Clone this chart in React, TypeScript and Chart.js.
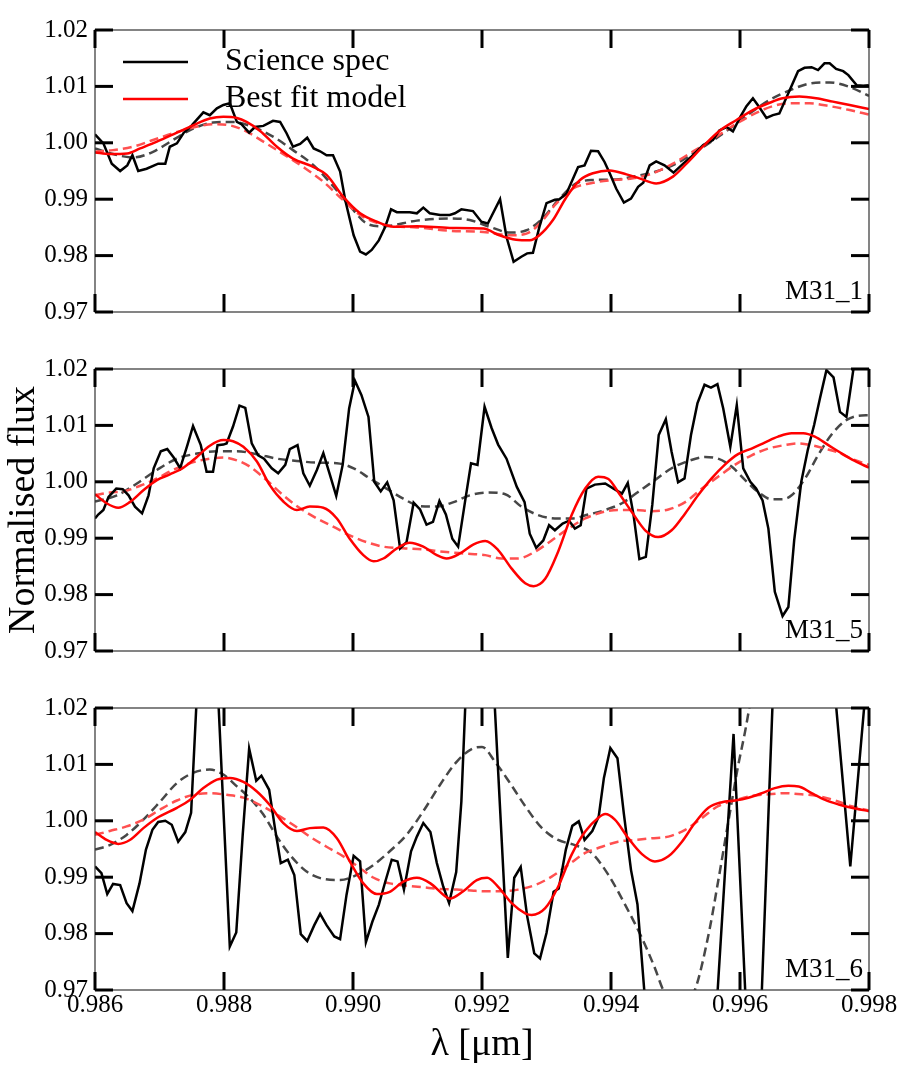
import React, { useEffect, useRef } from "react";
import { Chart, registerables } from "chart.js";

Chart.register(...registerables);

Chart.defaults.font.family = '"Liberation Serif", "Times New Roman", serif';
Chart.defaults.color = "#000";

type Pt = [number, number];

// shared axes
const xTicks = [0.986, 0.988, 0.99, 0.992, 0.994, 0.996, 0.998];
const xTickLabels = ["0.986", "0.988", "0.990", "0.992", "0.994", "0.996", "0.998"];
const yTicks = [0.97, 0.98, 0.99, 1.0, 1.01, 1.02];
const yTickLabels = ["0.97", "0.98", "0.99", "1.00", "1.01", "1.02"];
const panelNames = ["M31_1", "M31_5", "M31_6"];
const legendLabels = ["Science spec", "Best fit model"];

// ---- M31_1 ----
const m31_1Spec: Pt[] = [
  [0.986, 1.0015], [0.98613, 0.9999], [0.98626, 0.9963], [0.98639, 0.995], [0.9865, 0.996],
  [0.98658, 0.9978], [0.98667, 0.995], [0.9868, 0.9954], [0.98698, 0.9963], [0.98709, 0.9963],
  [0.98716, 0.9993], [0.98727, 0.9999], [0.98737, 1.0017], [0.9875, 1.0031], [0.98768, 1.0054],
  [0.98778, 1.0049], [0.98789, 1.0061], [0.98799, 1.0067], [0.98809, 1.007], [0.9882, 1.0037],
  [0.98827, 1.0033], [0.98839, 1.0018], [0.98848, 1.0028], [0.98861, 1.003], [0.98876, 1.0039],
  [0.98887, 1.0037], [0.98897, 1.0017], [0.98907, 0.9993], [0.98918, 0.9998], [0.98929, 1.0009],
  [0.98939, 0.999], [0.98949, 0.9985], [0.98959, 0.9978], [0.98969, 0.9978], [0.9898, 0.9949],
  [0.98988, 0.9898], [0.99001, 0.9836], [0.99011, 0.9807], [0.9902, 0.9802], [0.99029, 0.981],
  [0.9904, 0.9827], [0.9905, 0.9851], [0.99059, 0.9882], [0.99068, 0.9877], [0.99088, 0.9877],
  [0.99099, 0.9875], [0.99109, 0.9885], [0.99119, 0.9875], [0.99135, 0.9872], [0.9915, 0.9872],
  [0.99158, 0.9875], [0.99168, 0.9882], [0.99186, 0.9879], [0.99199, 0.986], [0.99209, 0.9857],
  [0.99228, 0.99], [0.99238, 0.9833], [0.99249, 0.9789], [0.99261, 0.9798], [0.9927, 0.9804],
  [0.99279, 0.9805], [0.99289, 0.9851], [0.993, 0.9893], [0.99313, 0.9899], [0.9932, 0.99],
  [0.99331, 0.991], [0.99349, 0.9957], [0.99359, 0.996], [0.99369, 0.9986], [0.9938, 0.9985],
  [0.9939, 0.9966], [0.99398, 0.9946], [0.99408, 0.9919], [0.9942, 0.9894], [0.99431, 0.9901],
  [0.99442, 0.9922], [0.9945, 0.9929], [0.9946, 0.996], [0.9947, 0.9967], [0.99483, 0.996],
  [0.99497, 0.9947], [0.99512, 0.9963], [0.99525, 0.9976], [0.99543, 0.9996], [0.99558, 1.0005],
  [0.99568, 1.0022], [0.99579, 1.0028], [0.99589, 1.002], [0.996, 1.0045], [0.9961, 1.0065],
  [0.9962, 1.0079], [0.9963, 1.0063], [0.99641, 1.0044], [0.99651, 1.0049], [0.99661, 1.0052],
  [0.99677, 1.0093], [0.9969, 1.0127], [0.997, 1.0133], [0.99711, 1.0134], [0.99721, 1.0129],
  [0.99731, 1.0141], [0.99739, 1.0141], [0.99749, 1.0131], [0.9976, 1.0127], [0.99768, 1.012],
  [0.99781, 1.0102], [0.99791, 1.0101], [0.998, 1.0102],
];
const m31_1Fit: Pt[] = [
  [0.986, 0.9983], [0.98623, 0.998], [0.9865, 0.9981], [0.9867, 0.999], [0.98696, 1.0002],
  [0.98727, 1.0018], [0.98752, 1.0031], [0.98778, 1.0043], [0.98799, 1.0046], [0.9882, 1.0044],
  [0.98835, 1.0037], [0.98856, 1.0021], [0.98882, 0.9993], [0.98907, 0.9972], [0.98939, 0.9957],
  [0.98959, 0.9943], [0.98985, 0.9904], [0.99011, 0.9875], [0.99037, 0.986], [0.99063, 0.9851],
  [0.99099, 0.9852], [0.9915, 0.9849], [0.99202, 0.9848], [0.99227, 0.9836], [0.99253, 0.9828],
  [0.99274, 0.9827], [0.99289, 0.9836], [0.9931, 0.9863], [0.99331, 0.9904], [0.99352, 0.9934],
  [0.99372, 0.9946], [0.99398, 0.9951], [0.99424, 0.9944], [0.99444, 0.9937], [0.9947, 0.9928],
  [0.99496, 0.994], [0.99517, 0.9963], [0.99543, 0.9994], [0.99568, 1.0021], [0.99594, 1.004],
  [0.9962, 1.0058], [0.99646, 1.0071], [0.99666, 1.0079], [0.99692, 1.0082], [0.99718, 1.0079],
  [0.99744, 1.0073], [0.9977, 1.0067], [0.998, 1.006],
];
const m31_1FitAlt: Pt[] = [
  [0.986, 0.9984], [0.98628, 0.9987], [0.98659, 0.9993], [0.9869, 1.0005], [0.98721, 1.0017],
  [0.98752, 1.0027], [0.98783, 1.0033], [0.98809, 1.0031], [0.98835, 1.002], [0.98861, 1.0002],
  [0.98892, 0.998], [0.98923, 0.9957], [0.98954, 0.9931], [0.98985, 0.9898], [0.99011, 0.9872],
  [0.99037, 0.9858], [0.99063, 0.9852], [0.99099, 0.985], [0.9915, 0.9844], [0.99202, 0.9842],
  [0.99243, 0.9836], [0.99269, 0.9839], [0.99289, 0.9856], [0.99315, 0.9892], [0.99341, 0.9919],
  [0.99372, 0.9929], [0.99403, 0.9934], [0.99434, 0.9937], [0.99465, 0.9946], [0.99496, 0.9963],
  [0.99522, 0.9981], [0.99548, 0.9999], [0.99574, 1.0019], [0.99599, 1.0037], [0.99625, 1.0053],
  [0.99651, 1.0065], [0.99677, 1.007], [0.99708, 1.007], [0.99739, 1.0065], [0.9977, 1.0058],
  [0.998, 1.005],
];
const m31_1Other: Pt[] = [
  [0.986, 0.999], [0.98628, 0.998], [0.98659, 0.9974], [0.9869, 0.9984], [0.98721, 1.0005],
  [0.98752, 1.0025], [0.98783, 1.0036], [0.98814, 1.0037], [0.98845, 1.0028], [0.98876, 1.0011],
  [0.98907, 0.9987], [0.98939, 0.996], [0.9897, 0.9922], [0.99001, 0.988], [0.99021, 0.9857],
  [0.99047, 0.9852], [0.99099, 0.9862], [0.9915, 0.9866], [0.99181, 0.9863], [0.99212, 0.9851],
  [0.99243, 0.9841], [0.99269, 0.9845], [0.99294, 0.9866], [0.9932, 0.9901], [0.99346, 0.9928],
  [0.99372, 0.9934], [0.99408, 0.9935], [0.99439, 0.9941], [0.9947, 0.9949], [0.99501, 0.9963],
  [0.99527, 0.9981], [0.99553, 1.0], [0.99584, 1.0025], [0.99615, 1.0052], [0.99646, 1.0076],
  [0.99677, 1.0093], [0.99708, 1.0105], [0.99739, 1.0107], [0.9977, 1.0099], [0.998, 1.0083],
];

// ---- M31_5 ----
const m31_5Spec: Pt[] = [
  [0.986, 0.9935], [0.98605, 0.9942], [0.98613, 0.995], [0.98621, 0.9973], [0.98633, 0.9988],
  [0.98643, 0.9987], [0.98652, 0.9976], [0.98662, 0.9956], [0.98673, 0.9944], [0.98683, 0.9976],
  [0.98691, 1.0024], [0.98702, 1.0054], [0.98712, 1.0058], [0.98722, 1.0043], [0.98732, 1.0024],
  [0.98743, 1.0064], [0.98752, 1.0099], [0.98764, 1.0065], [0.98773, 1.0018], [0.98783, 1.0018],
  [0.9879, 1.0065], [0.98799, 1.0066], [0.98804, 1.0068], [0.98814, 1.0098], [0.98824, 1.0135],
  [0.98833, 1.0131], [0.98843, 1.0068], [0.98853, 1.0047], [0.98862, 1.0041], [0.98874, 1.0024],
  [0.98884, 1.0015], [0.98895, 1.003], [0.98902, 1.0058], [0.98914, 1.0065], [0.98923, 1.0015],
  [0.98933, 0.9993], [0.98944, 1.0021], [0.98954, 1.0051], [0.98964, 1.0013], [0.98974, 0.9975],
  [0.98984, 1.003], [0.98994, 1.013], [0.99003, 1.0179], [0.99013, 1.0154], [0.99024, 1.0115],
  [0.99033, 1.0], [0.99043, 0.9983], [0.99053, 0.9999], [0.99063, 0.9967], [0.99073, 0.9882],
  [0.99083, 0.9893], [0.99094, 0.9963], [0.99104, 0.9951], [0.99114, 0.9924], [0.99124, 0.9929],
  [0.99134, 0.9966], [0.99144, 0.9942], [0.99154, 0.9899], [0.99163, 0.9885], [0.99174, 0.9967],
  [0.99183, 1.0033], [0.99193, 1.003], [0.99204, 1.0133], [0.99215, 1.0095], [0.99225, 1.0066],
  [0.99238, 1.0041], [0.99254, 0.9991], [0.99266, 0.9964], [0.99274, 0.9908], [0.99284, 0.9883],
  [0.99295, 0.9896], [0.99304, 0.9923], [0.99313, 0.9914], [0.99325, 0.9926], [0.99335, 0.9931],
  [0.99344, 0.9917], [0.99353, 0.9923], [0.99362, 0.9988], [0.99375, 0.9995], [0.99391, 0.9997],
  [0.99404, 0.9988], [0.99417, 0.9979], [0.99426, 0.9998], [0.99435, 0.9941], [0.99444, 0.9863],
  [0.99454, 0.9867], [0.99464, 0.9959], [0.99474, 1.0083], [0.99485, 1.0111], [0.99494, 1.0053],
  [0.99504, 0.9999], [0.99514, 1.0006], [0.99524, 1.0083], [0.99534, 1.0139], [0.99545, 1.0172],
  [0.99555, 1.0167], [0.99565, 1.0173], [0.99574, 1.013], [0.99585, 1.0062], [0.99595, 1.0136],
  [0.99605, 1.0024], [0.99616, 1.0], [0.99625, 0.9988], [0.99635, 0.9967], [0.99644, 0.9917],
  [0.99654, 0.9805], [0.99666, 0.9762], [0.99675, 0.9778], [0.99684, 0.9896], [0.99695, 1.0],
  [0.99705, 1.0056], [0.99715, 1.0101], [0.99724, 1.0148], [0.99734, 1.0198], [0.99745, 1.0185],
  [0.99755, 1.0124], [0.99765, 1.0115], [0.99776, 1.0201], [0.9979, 1.024],
];
const m31_5Fit: Pt[] = [
  [0.986, 0.9978], [0.98618, 0.9962], [0.98636, 0.9954], [0.98654, 0.9964], [0.98675, 0.9985],
  [0.98696, 1.0003], [0.98716, 1.0013], [0.98737, 1.0025], [0.98758, 1.0044], [0.98778, 1.0064],
  [0.98799, 1.0074], [0.98814, 1.0072], [0.9883, 1.0062], [0.98851, 1.0036], [0.98871, 0.9994],
  [0.98892, 0.9965], [0.98913, 0.995], [0.98933, 0.9956], [0.98954, 0.9954], [0.98975, 0.9935],
  [0.98995, 0.9899], [0.99016, 0.987], [0.99032, 0.9859], [0.99047, 0.9864], [0.99068, 0.9882],
  [0.99088, 0.9892], [0.99109, 0.9885], [0.9913, 0.987], [0.99145, 0.9864], [0.99166, 0.9873],
  [0.99187, 0.9889], [0.99205, 0.9895], [0.99225, 0.9879], [0.99246, 0.9846], [0.99267, 0.982],
  [0.9928, 0.9815], [0.99298, 0.9828], [0.99318, 0.9876], [0.99339, 0.9941], [0.9936, 0.9988],
  [0.9938, 1.0009], [0.99396, 1.0005], [0.99411, 0.9982], [0.99432, 0.9947], [0.99453, 0.9914],
  [0.99473, 0.9902], [0.99494, 0.9914], [0.99515, 0.9944], [0.99535, 0.9976], [0.99556, 1.0006],
  [0.99577, 1.0031], [0.99597, 1.0049], [0.99618, 1.0059], [0.99639, 1.007], [0.99659, 1.008],
  [0.9968, 1.0086], [0.99698, 1.0086], [0.99716, 1.008], [0.99737, 1.0065], [0.99758, 1.005],
  [0.99778, 1.0037], [0.998, 1.0025],
];
const m31_5FitAlt: Pt[] = [
  [0.986, 0.9976], [0.98623, 0.9981], [0.98644, 0.9983], [0.9867, 0.9993], [0.98696, 1.0006],
  [0.98721, 1.0021], [0.98747, 1.0033], [0.98773, 1.004], [0.98799, 1.0043], [0.9882, 1.0038],
  [0.9884, 1.0027], [0.98866, 1.0003], [0.98892, 0.9976], [0.98918, 0.9953], [0.98944, 0.9935],
  [0.9897, 0.992], [0.98995, 0.9905], [0.99021, 0.9893], [0.99047, 0.9885], [0.99078, 0.9882],
  [0.99109, 0.988], [0.9914, 0.9876], [0.99171, 0.9873], [0.99205, 0.987], [0.9923, 0.9864],
  [0.99256, 0.9864], [0.99282, 0.9876], [0.99308, 0.9896], [0.99334, 0.9917], [0.9936, 0.9935],
  [0.99386, 0.9946], [0.99411, 0.995], [0.99437, 0.995], [0.99463, 0.9948], [0.99489, 0.9951],
  [0.99515, 0.9964], [0.99541, 0.9988], [0.99566, 1.0009], [0.99592, 1.003], [0.99618, 1.0047],
  [0.99644, 1.0059], [0.99669, 1.0065], [0.9969, 1.0068], [0.99711, 1.0065], [0.99731, 1.0059],
  [0.99752, 1.0052], [0.99773, 1.0041], [0.998, 1.003],
];
const m31_5Other: Pt[] = [
  [0.986, 0.9965], [0.98634, 0.9976], [0.98665, 0.9997], [0.98696, 1.0021], [0.98727, 1.0041],
  [0.98758, 1.005], [0.98789, 1.0054], [0.9882, 1.0054], [0.98851, 1.0049], [0.98882, 1.0041],
  [0.98913, 1.0037], [0.98944, 1.0034], [0.98975, 1.0033], [0.99001, 1.0024], [0.99026, 1.0006],
  [0.99052, 0.9988], [0.99078, 0.997], [0.99104, 0.9957], [0.9913, 0.9956], [0.99156, 0.9964],
  [0.99181, 0.9976], [0.9921, 0.9981], [0.99236, 0.9978], [0.99261, 0.9956], [0.99287, 0.9941],
  [0.99313, 0.9935], [0.99339, 0.9935], [0.99365, 0.9942], [0.99391, 0.995], [0.99417, 0.9962],
  [0.99442, 0.9982], [0.99468, 1.0003], [0.99494, 1.0024], [0.9952, 1.0037], [0.99546, 1.0044],
  [0.99566, 1.0041], [0.99587, 1.0027], [0.99608, 1.0003], [0.99628, 0.9982], [0.99649, 0.9969],
  [0.99665, 0.9969], [0.9968, 0.9976], [0.99701, 1.0006], [0.99721, 1.0047], [0.99742, 1.0084],
  [0.99763, 1.0108], [0.99783, 1.0117], [0.998, 1.0118],
];

// ---- M31_6 ----
const m31_6Spec: Pt[] = [
  [0.986, 0.9919], [0.9861, 0.9907], [0.98619, 0.987], [0.98628, 0.9888], [0.98639, 0.9886],
  [0.98649, 0.9854], [0.98658, 0.984], [0.98669, 0.9889], [0.98679, 0.9949], [0.98689, 0.9984],
  [0.98698, 0.9998], [0.98709, 1.0], [0.98719, 0.9993], [0.98729, 0.9963], [0.9874, 0.998],
  [0.98749, 1.0014], [0.98763, 1.0342], [0.98786, 1.0342], [0.98809, 0.9777], [0.98819, 0.9802],
  [0.98829, 0.9975], [0.98839, 1.0128], [0.9885, 1.0071], [0.98858, 1.008], [0.9887, 1.0055],
  [0.98879, 0.9987], [0.98888, 0.9925], [0.98899, 0.9931], [0.98909, 0.9904], [0.98919, 0.9799],
  [0.98929, 0.9787], [0.9894, 0.9815], [0.98949, 0.9835], [0.98959, 0.9815], [0.98971, 0.9795],
  [0.9898, 0.979], [0.9899, 0.9869], [0.99001, 0.9938], [0.99011, 0.9928], [0.9902, 0.9785],
  [0.9903, 0.9821], [0.9904, 0.9851], [0.9905, 0.9892], [0.9906, 0.9931], [0.99069, 0.9928],
  [0.99079, 0.9878], [0.9909, 0.9946], [0.99099, 0.9972], [0.99109, 0.9996], [0.9912, 0.998],
  [0.9913, 0.9925], [0.9914, 0.9883], [0.99149, 0.9854], [0.9916, 0.9909], [0.99168, 1.0034],
  [0.9918, 1.037], [0.9921, 1.042], [0.9924, 0.9757], [0.9925, 0.9899], [0.9926, 0.9918],
  [0.9927, 0.9831], [0.99281, 0.9765], [0.9929, 0.9756], [0.993, 0.9801], [0.99311, 0.9874],
  [0.99319, 0.988], [0.9933, 0.9949], [0.9934, 0.9991], [0.9935, 0.9999], [0.99359, 0.9966],
  [0.99371, 0.9982], [0.99381, 1.0008], [0.99389, 1.0076], [0.99399, 1.0129], [0.9941, 1.0111],
  [0.9942, 1.0012], [0.99431, 0.9913], [0.99441, 0.9852], [0.99455, 0.965], [0.9956, 0.96],
  [0.9959, 1.0154], [0.9961, 0.965], [0.9963, 0.958], [0.9966, 1.05], [0.9973, 1.045],
  [0.99771, 0.9919], [0.998, 1.03],
];
const m31_6Fit: Pt[] = [
  [0.986, 0.998], [0.98618, 0.9966], [0.98636, 0.9959], [0.98654, 0.9966], [0.98675, 0.9987],
  [0.98696, 1.0005], [0.98727, 1.0023], [0.98747, 1.0037], [0.98768, 1.0058], [0.98789, 1.0073],
  [0.98809, 1.0076], [0.9883, 1.0069], [0.98851, 1.0052], [0.98871, 1.0028], [0.98892, 0.9996],
  [0.98913, 0.9982], [0.98933, 0.9987], [0.98954, 0.9988], [0.98975, 0.9969], [0.98995, 0.9928],
  [0.99016, 0.9889], [0.99037, 0.987], [0.99057, 0.9874], [0.99078, 0.9892], [0.99099, 0.9899],
  [0.9912, 0.9889], [0.9914, 0.9869], [0.9915, 0.9862], [0.99171, 0.9875], [0.99192, 0.9895],
  [0.99208, 0.9899], [0.99225, 0.9883], [0.99246, 0.9854], [0.99267, 0.9836], [0.99277, 0.9833],
  [0.99298, 0.9845], [0.99318, 0.9883], [0.99339, 0.994], [0.9936, 0.9981], [0.9938, 1.0005],
  [0.99391, 1.0012], [0.99406, 1.0002], [0.99427, 0.9969], [0.99448, 0.9941], [0.99468, 0.9928],
  [0.99489, 0.9937], [0.9951, 0.9963], [0.9953, 0.9996], [0.99551, 1.0023], [0.99572, 1.0033],
  [0.99592, 1.0036], [0.99613, 1.0041], [0.99634, 1.0049], [0.99654, 1.0058], [0.99675, 1.0062],
  [0.99691, 1.0061], [0.99711, 1.0049], [0.99732, 1.0037], [0.99753, 1.0029], [0.99773, 1.0023],
  [0.998, 1.0017],
];
const m31_6FitAlt: Pt[] = [
  [0.986, 0.9975], [0.98623, 0.9982], [0.98649, 0.999], [0.98675, 1.0002], [0.98701, 1.002],
  [0.98727, 1.0036], [0.98752, 1.0046], [0.98778, 1.0049], [0.98804, 1.0046], [0.9883, 1.0041],
  [0.98856, 1.0028], [0.98882, 1.0011], [0.98907, 0.9993], [0.98933, 0.9972], [0.98959, 0.9954],
  [0.98985, 0.9937], [0.99011, 0.9916], [0.99032, 0.9899], [0.99057, 0.9889], [0.99083, 0.9885],
  [0.99109, 0.9882], [0.99135, 0.9879], [0.99161, 0.9878], [0.99187, 0.9876], [0.9921, 0.9875],
  [0.9923, 0.9875], [0.99256, 0.9878], [0.99282, 0.9886], [0.99308, 0.9901], [0.99334, 0.9922],
  [0.9936, 0.9943], [0.99386, 0.9954], [0.99411, 0.9963], [0.99437, 0.9966], [0.99463, 0.9969],
  [0.99489, 0.9972], [0.99515, 0.9984], [0.99541, 1.0005], [0.99566, 1.0026], [0.99592, 1.0036],
  [0.99618, 1.0044], [0.99644, 1.0047], [0.99669, 1.0049], [0.99695, 1.0047], [0.99721, 1.0044],
  [0.99747, 1.0036], [0.99773, 1.0026], [0.998, 1.0018],
];
const m31_6Other: Pt[] = [
  [0.986, 0.9949], [0.98623, 0.9957], [0.98649, 0.9975], [0.98675, 1.0002], [0.98701, 1.0034],
  [0.98727, 1.0067], [0.98752, 1.0085], [0.98778, 1.0091], [0.98799, 1.0082], [0.9882, 1.0061],
  [0.9884, 1.004], [0.98861, 1.0011], [0.98882, 0.9972], [0.98902, 0.994], [0.98928, 0.991],
  [0.98954, 0.9897], [0.9898, 0.9895], [0.99006, 0.9904], [0.99032, 0.9922], [0.99057, 0.9946],
  [0.99083, 0.9975], [0.99109, 1.0017], [0.99135, 1.0064], [0.99161, 1.0105], [0.99187, 1.0129],
  [0.992, 1.0131], [0.9922, 1.0105], [0.99241, 1.0071], [0.99267, 1.0026], [0.99293, 0.9987],
  [0.99318, 0.9966], [0.99344, 0.9957], [0.9937, 0.9943], [0.99396, 0.9904], [0.99422, 0.9851],
  [0.99448, 0.9792], [0.99468, 0.9739], [0.99481, 0.97], [0.99505, 0.9665], [0.9953, 0.97],
  [0.99551, 0.9797], [0.99566, 0.9892], [0.99582, 0.9999], [0.99597, 1.0097], [0.99608, 1.0159],
  [0.9963, 1.03], [0.9968, 1.05],
];

const panels = [
  { spec: m31_1Spec, fit: m31_1Fit, fitAlt: m31_1FitAlt, other: m31_1Other },
  { spec: m31_5Spec, fit: m31_5Fit, fitAlt: m31_5FitAlt, other: m31_5Other },
  { spec: m31_6Spec, fit: m31_6Fit, fitAlt: m31_6FitAlt, other: m31_6Other },
];

// canvas placement: [top, height, chart-area top inside canvas, x-axis box height]
const layoutRows = [
  { top: 0, height: 340, padTop: 30, xBox: 28 },
  { top: 340, height: 340, padTop: 29, xBox: 29 },
  { top: 680, height: 394, padTop: 28, xBox: 84 },
];

const toPts = (d: Pt[]) => d.map(([x, y]) => ({ x, y }));

// box, inward ticks on all four sides, panel name and legend
const framePlugin = {
  id: "frame",
  afterDatasetsDraw(chart: any, _args: any, opts: any) {
    const { ctx, chartArea: a, scales } = chart;
    const seg = (x1: number, y1: number, x2: number, y2: number) => {
      ctx.beginPath();
      ctx.moveTo(x1, y1);
      ctx.lineTo(x2, y2);
      ctx.stroke();
    };
    ctx.save();
    ctx.strokeStyle = "#333";
    ctx.lineWidth = 1.2;
    ctx.strokeRect(a.left, a.top, a.right - a.left, a.bottom - a.top);

    ctx.strokeStyle = "#000";
    ctx.lineWidth = 3;
    const len = 18;
    scales.x.ticks.forEach((t: any) => {
      const px = scales.x.getPixelForValue(t.value);
      seg(px, a.bottom, px, a.bottom - len);
      seg(px, a.top, px, a.top + len);
    });
    scales.y.ticks.forEach((t: any) => {
      const py = scales.y.getPixelForValue(t.value);
      seg(a.left, py, a.left + len, py);
      seg(a.right, py, a.right - len, py);
    });

    ctx.fillStyle = "#000";
    ctx.font = '27px "Liberation Serif", serif';
    ctx.textAlign = "right";
    ctx.textBaseline = "alphabetic";
    ctx.fillText(opts.name, a.right - 6, a.bottom - 13);

    if (opts.legend) {
      ctx.font = '32px "Liberation Serif", serif';
      ctx.textAlign = "left";
      ctx.textBaseline = "middle";
      chart.data.datasets
        .filter((d: any) => legendLabels.includes(d.label))
        .forEach((d: any, i: number) => {
          const y = a.top + 32 + i * 37;
          ctx.strokeStyle = d.borderColor;
          ctx.lineWidth = 2.5;
          seg(a.left + 28, y, a.left + 93, y);
          ctx.fillStyle = "#000";
          ctx.fillText(d.label, a.left + 130, y);
        });
    }
    ctx.restore();
  },
};

const Panel = ({ index }: { index: number }) => {
  const canvasRef = useRef<HTMLCanvasElement | null>(null);
  const row = layoutRows[index];

  useEffect(() => {
    if (!canvasRef.current) return;
    const ctx = canvasRef.current.getContext("2d");
    if (!ctx) return;

    const p = panels[index];
    const last = index === panels.length - 1;
    const common = { pointRadius: 0, borderWidth: 2.5, clip: 0, fill: false };

    const chart = new Chart(ctx, {
      type: "line",
      data: {
        datasets: [
          { ...common, label: legendLabels[0], data: toPts(p.spec), borderColor: "#000", tension: 0, order: 1 },
          { ...common, label: legendLabels[1], data: toPts(p.fit), borderColor: "#ff0000", cubicInterpolationMode: "monotone", order: 0 },
          { ...common, data: toPts(p.fitAlt), borderColor: "#ff5050", borderDash: [9, 5], cubicInterpolationMode: "monotone", order: 2 },
          { ...common, data: toPts(p.other), borderColor: "#474747", borderDash: [9, 5], cubicInterpolationMode: "monotone", order: 3 },
        ] as any,
      },
      options: {
        animation: false,
        responsive: true,
        maintainAspectRatio: false,
        events: [],
        layout: { padding: { top: row.padTop, right: 43, left: 0, bottom: 0 } },
        plugins: {
          legend: { display: false },
          tooltip: { enabled: false },
          frame: { name: panelNames[index], legend: index === 0 },
        } as any,
        scales: {
          x: {
            type: "linear",
            min: 0.986,
            max: 0.998,
            afterBuildTicks: (s: any) => {
              s.ticks = xTicks.map((v) => ({ value: v }));
            },
            afterFit: (s: any) => {
              s.height = row.xBox;
            },
            grid: { display: false, drawTicks: false },
            border: { display: false },
            ticks: {
              display: last,
              autoSkip: false,
              maxRotation: 0,
              padding: 0,
              color: "#000",
              font: { size: 25 },
              callback: (_v: any, i: number) => xTickLabels[i],
            },
            title: {
              display: last,
              text: "λ [μm]",
              color: "#000",
              font: { size: 38 },
              padding: { top: 0, bottom: 6 },
            },
          },
          y: {
            type: "linear",
            min: 0.97,
            max: 1.02,
            afterBuildTicks: (s: any) => {
              s.ticks = yTicks.map((v) => ({ value: v }));
            },
            afterFit: (s: any) => {
              s.width = 95;
            },
            grid: { display: false, drawTicks: false },
            border: { display: false },
            ticks: {
              padding: 7,
              color: "#000",
              font: { size: 25 },
              callback: (_v: any, i: number) => yTickLabels[i],
            },
            title: {
              display: index === 1,
              text: "Normalised flux",
              color: "#000",
              font: { size: 38 },
              padding: { top: 1, bottom: 0 },
            },
          },
        },
      },
      plugins: [framePlugin],
    });

    return () => {
      chart.destroy();
    };
  }, [index]);

  return (
    <div style={{ position: "absolute", left: 0, top: row.top, width: 912, height: row.height }}>
      <canvas ref={canvasRef} />
    </div>
  );
};

const App = () => (
  <div style={{ position: "absolute", left: 0, top: 0, width: 912, height: 1074, background: "#fff" }}>
    {panels.map((_, i) => (
      <Panel key={i} index={i} />
    ))}
  </div>
);

export default App;
